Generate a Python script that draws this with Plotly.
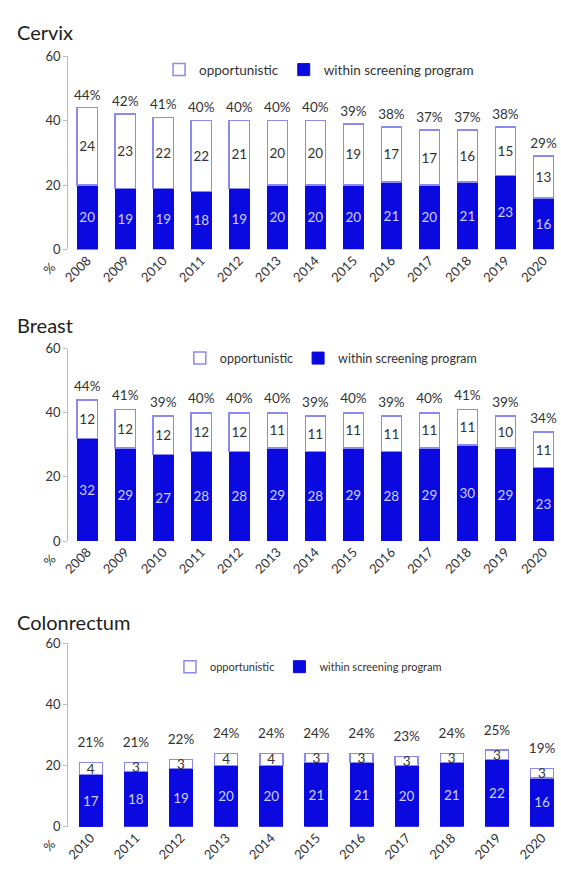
import plotly.graph_objects as go

# ---- data ----
cervix_years = [str(y) for y in range(2008, 2021)]
cervix_within = [20, 19, 19, 18, 19, 20, 20, 20, 21, 20, 21, 23, 16]
cervix_opport = [24, 23, 22, 22, 21, 20, 20, 19, 17, 17, 16, 15, 13]
cervix_total = [44, 42, 41, 40, 40, 40, 40, 39, 38, 37, 37, 38, 29]

breast_years = [str(y) for y in range(2008, 2021)]
breast_within = [32, 29, 27, 28, 28, 29, 28, 29, 28, 29, 30, 29, 23]
breast_opport = [12, 12, 12, 12, 12, 11, 11, 11, 11, 11, 11, 10, 11]
breast_total = [44, 41, 39, 40, 40, 40, 39, 40, 39, 40, 41, 39, 34]

colon_years = [str(y) for y in range(2010, 2021)]
colon_within = [17, 18, 19, 20, 20, 21, 21, 20, 21, 22, 16]
colon_opport = [4, 3, 3, 4, 4, 3, 3, 3, 3, 3, 3]
colon_total = [21, 21, 22, 24, 24, 24, 24, 23, 24, 25, 19]

FONT = "Lato, 'Open Sans', sans-serif"
BLUE = "#0a0ae0"
OUTLINE = "#8a8af2"
INK = "#333333"

W, H = 561, 873

# drop the default body margin so the figure sits flush in the window
_NO_MARGIN_JS = """
document.body.style.margin = '0';
document.documentElement.style.overflow = 'hidden';
"""


def px_x(p):
    """pixel column -> paper x"""
    return p / W


def px_y(p):
    """pixel row (from top) -> paper y"""
    return 1 - p / H


# name, years, within, opportunistic, total,
# plot top/bottom px, title row px, legend row px, legend font, legend left px,
# bar width, category pitch px, marker pad for totals
panels = [
    ("Cervix", cervix_years, cervix_within, cervix_opport, cervix_total,
     49, 246, 24, 63, 13.5, 154, 0.53, 38.5, 6),
    ("Breast", breast_years, breast_within, breast_opport, breast_total,
     347, 543, 323, 357, 12.5, 175, 0.53, 38.5, 8),
    ("Colonrectum", colon_years, colon_within, colon_opport, colon_total,
     647, 834, 625, 671, 11, 165, 0.51, 45.7, 18),
]

X0 = 62  # y-axis line / plot left edge

fig = go.Figure()
layout = {}
annotations = []

for i, (name, years, within, opport, total, top, bot, ttl, leg, lfs, lx,
        bw, pitch, pad) in enumerate(panels):
    n = "" if i == 0 else str(i + 1)
    xa, ya = "x" + n, "y" + n
    lg = "legend" + n

    fig.add_trace(go.Bar(
        x=years, y=within, name="within screening program",
        xaxis=xa, yaxis=ya, legend=lg, width=bw,
        marker=dict(color=BLUE, line=dict(color=BLUE, width=1)),
        text=within, textposition="inside", insidetextanchor="middle",
        textangle=0, constraintext="none",
        textfont=dict(family=FONT, size=13.5, color="#d0d0ff"),
        hoverinfo="skip",
    ))
    fig.add_trace(go.Bar(
        x=years, y=opport, name="opportunistic",
        xaxis=xa, yaxis=ya, legend=lg, width=bw,
        marker=dict(color="white", line=dict(color=OUTLINE, width=1.5)),
        text=opport, textposition="inside", insidetextanchor="middle",
        textangle=0, constraintext="none",
        textfont=dict(family=FONT, size=13.5, color=INK),
        hoverinfo="skip",
    ))
    # totals above each bar; invisible marker pushes the text up
    fig.add_trace(go.Scatter(
        x=years, y=total, mode="markers+text",
        marker=dict(size=pad, opacity=0),
        text=[f"{t}%" for t in total], textposition="top center",
        textfont=dict(family=FONT, size=13.5, color=INK),
        xaxis=xa, yaxis=ya, showlegend=False, hoverinfo="skip",
        cliponaxis=False,
    ))

    layout["xaxis" + n] = dict(
        domain=[px_x(X0), 1.0], anchor=ya,
        range=[-0.5, -0.5 + (W - X0) / pitch],
        tickangle=-45, tickfont=dict(family=FONT, size=13, color=INK),
        showline=False, showgrid=False, ticks="", zeroline=False,
        fixedrange=True,
    )
    layout["yaxis" + n] = dict(
        domain=[px_y(bot), px_y(top)], anchor=xa,
        range=[0, 60], tickvals=[0, 20, 40, 60],
        tickfont=dict(family=FONT, size=13, color=INK),
        showline=True, linecolor="#bbbbbb", linewidth=1,
        ticks="outside", ticklen=4, tickcolor="#bbbbbb",
        showgrid=False, zeroline=False, fixedrange=True,
    )
    layout[lg] = dict(
        orientation="h", x=px_x(lx), xanchor="left",
        y=px_y(leg), yanchor="middle",
        traceorder="reversed",
        font=dict(family=FONT, size=lfs, color=INK),
        bgcolor="rgba(0,0,0,0)", itemwidth=30,
        itemclick=False, itemdoubleclick=False,
    )
    annotations.append(dict(
        text=name, xref="paper", yref="paper",
        x=px_x(8), y=px_y(ttl), xanchor="left", yanchor="middle",
        showarrow=False, font=dict(family=FONT, size=20, color="#222222"),
    ))
    annotations.append(dict(
        text="%", xref="paper", yref="paper",
        x=px_x(43), y=px_y(bot + 19), xanchor="center", yanchor="middle",
        showarrow=False, textangle=-45,
        font=dict(family=FONT, size=13, color=INK),
    ))

fig.update_layout(
    **layout,
    annotations=annotations,
    barmode="stack",
    width=W, height=H,
    margin=dict(l=0, r=0, t=0, b=0),
    paper_bgcolor="white", plot_bgcolor="white",
    font=dict(family=FONT),
)

fig.write_html("out.html", post_script=_NO_MARGIN_JS,
               config={"displayModeBar": False})
